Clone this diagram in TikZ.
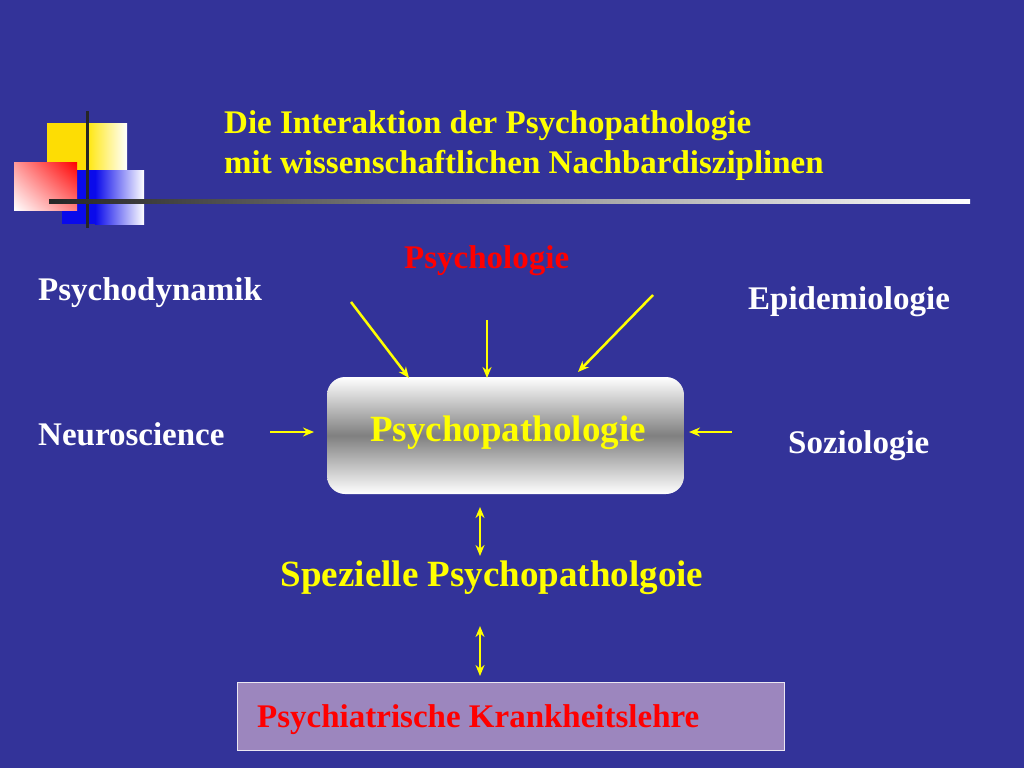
\documentclass[tikz,border=0pt]{standalone}
\usepackage{fontspec}
\setmainfont{Liberation Serif}
\usetikzlibrary{arrows.meta,shadings}
\definecolor{bg}{HTML}{333399}
\definecolor{yel}{HTML}{FFFF00}
\definecolor{lila}{HTML}{9C86BE}
\begin{document}
\begin{tikzpicture}[x=1pt,y=-1pt,
  lab/.style={text=white,font=\fontsize{33}{36}\selectfont\bfseries,anchor=base west,inner sep=0},
  arr/.style={yel,line width=2.5pt,-{Stealth[length=11pt,width=9pt]}},
  darr/.style={yel,line width=2.5pt,{Stealth[length=11pt,width=9pt]}-{Stealth[length=11pt,width=9pt]}}]
\fill[bg] (0,0) rectangle (1024,768);
\useasboundingbox (0,0) rectangle (1024,768);
% logo
\shade[left color=yellow!80!orange,right color=white] (85,123) rectangle (127,170);
\fill[yellow!80!orange] (47,123) rectangle (86,170);
\shade[left color=blue!80!bg,right color=white] (95,170) rectangle (144,224);
\fill[blue!80!bg] (62,170) rectangle (96,224);
\shade[upper right=red,lower left=white,upper left=red!40!white,lower right=red!50!white] (14,162) rectangle (77,210);
\draw[line width=3pt,black!85] (87,111) -- (87,228);
\shade[left color=black!85,right color=white] (49,199) rectangle (970,203);
% title
\node[anchor=base west,inner sep=0,text=yel,font=\fontsize{33}{40}\selectfont\bfseries] (title1) at (224,133) {Die Interaktion der Psychopathologie};
\node[anchor=base west,inner sep=0,text=yel,font=\fontsize{33}{40}\selectfont\bfseries] (title2) at (224,173) {mit wissenschaftlichen Nachbardisziplinen};
% center box
\shade[rounded corners=18pt,top color=white,bottom color=white,middle color=black!50] (327,377) rectangle (684,494);
\node[anchor=base,inner sep=0,text=yel,font=\fontsize{37}{40}\selectfont\bfseries] (pp) at (508,441) {Psychopathologie};
% labels
\node[lab,text=red] (psy) at (404,268) {Psychologie};
\node[lab] (pdyn) at (38,300) {Psychodynamik};
\node[lab] (epi) at (748,309) {Epidemiologie};
\node[lab] (neuro) at (38,445) {Neuroscience};
\node[lab] (soz) at (788,453) {Soziologie};
\node[anchor=base,inner sep=0,text=yel,font=\fontsize{37}{40}\selectfont\bfseries] (spez) at (492,586) {Spezielle Psychopatholgoie};
\node[draw=white!80!lila,fill=lila,line width=1pt,minimum width=547pt,minimum height=68pt,inner sep=0] (bot) at (510.5,716) {};
\node[anchor=base west,text=red,font=\fontsize{33}{36}\selectfont\bfseries,inner sep=0] (krank) at (257,727) {Psychiatrische Krankheitslehre};
% arrow ends
\coordinate (a1s) at (351,302); \coordinate (a1e) at (409,378);
\coordinate (a2s) at (487,320); \coordinate (a2e) at (487,378);
\coordinate (a3s) at (653,295); \coordinate (a3e) at (578,372);
\coordinate (a4s) at (270,432); \coordinate (a4e) at (314,432);
\coordinate (a5s) at (732,432); \coordinate (a5e) at (689,432);
\coordinate (d1s) at (480,507); \coordinate (d1e) at (480,556);
\coordinate (d2s) at (480,626); \coordinate (d2e) at (480,676);
\draw[arr] (a1s) -- (a1e);
\draw[arr] (a2s) -- (a2e);
\draw[arr] (a3s) -- (a3e);
\draw[arr] (a4s) -- (a4e);
\draw[arr] (a5s) -- (a5e);
\draw[darr] (d1s) -- (d1e);
\draw[darr] (d2s) -- (d2e);
\end{tikzpicture}
\end{document}
